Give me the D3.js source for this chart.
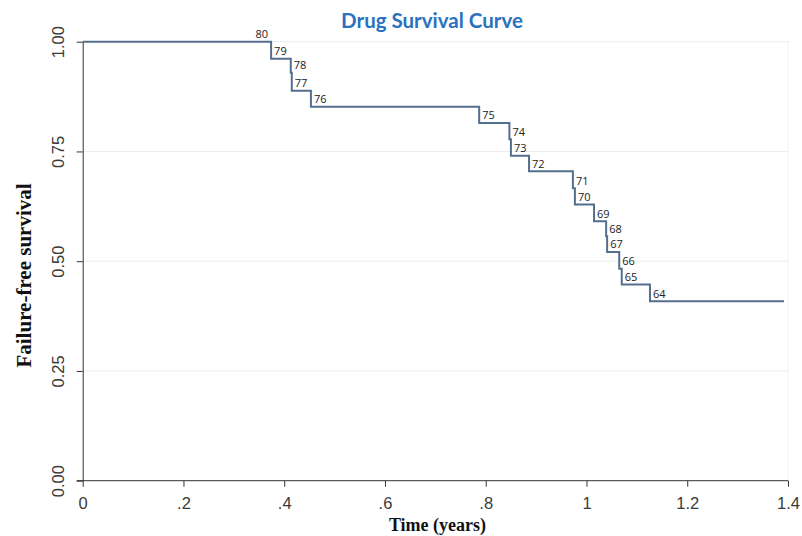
<!DOCTYPE html>
<html>
<head>
<meta charset="utf-8">
<script src="https://cdn.jsdelivr.net/npm/d3@7"></script>
<style>
  body { margin: 0; background: #fff; }
  svg { display: block; }
</style>
</head>
<body>
<svg id="chart" width="802" height="536"></svg>
<script>
// event times (years), survival after each event, number at risk labels
const times = [0, 0.374, 0.413, 0.415, 0.453, 0.787, 0.847, 0.85, 0.886, 0.973, 0.977, 1.015, 1.039, 1.041, 1.065, 1.07, 1.126];
const survival = [1.0, 0.961, 0.929, 0.888, 0.852, 0.815, 0.778, 0.74, 0.705, 0.666, 0.629, 0.591, 0.557, 0.521, 0.483, 0.447, 0.409];
const atRisk = [80, 79, 78, 77, 76, 75, 74, 73, 72, 71, 70, 69, 68, 67, 66, 65, 64];
const endTime = 1.392;

const xTicks = [0, 0.2, 0.4, 0.6, 0.8, 1, 1.2, 1.4];
const yTicks = [0, 0.25, 0.5, 0.75, 1];

const MARGINS = { top: 41.7, bottom: 55.3, left: 82.7, right: 14 };

const svg = d3.select("#chart");
const width = +svg.attr("width");
const height = +svg.attr("height");

const x = d3
  .scaleLinear()
  .domain([0, 1.4])
  .range([MARGINS.left, width - MARGINS.right]);

const y = d3
  .scaleLinear()
  .domain([0, 1])
  .range([height - MARGINS.bottom, MARGINS.top]);

// faint grid
svg
  .append("g")
  .selectAll("line")
  .data(yTicks.filter((d) => d > 0))
  .join("line")
  .attr("x1", x(0))
  .attr("x2", x(1.4))
  .attr("y1", (d) => y(d))
  .attr("y2", (d) => y(d))
  .attr("stroke", "#e9eef1")
  .attr("stroke-width", 1);

svg
  .append("line")
  .attr("x1", x(1.4))
  .attr("x2", x(1.4))
  .attr("y1", y(1))
  .attr("y2", y(0))
  .attr("stroke", "#eef2f4")
  .attr("stroke-width", 1);

// step curve
const steps = times.map((t, i) => [t, survival[i]]);
steps.push([endTime, survival[survival.length - 1]]);

const line = d3
  .line()
  .x((d) => x(d[0]))
  .y((d) => y(d[1]))
  .curve(d3.curveStepAfter);

svg
  .append("path")
  .datum(steps)
  .attr("d", line)
  .attr("fill", "none")
  .attr("stroke", "#546f8d")
  .attr("stroke-width", 2);

// number at risk labels
svg
  .append("g")
  .selectAll("text")
  .data(atRisk)
  .join("text")
  .attr("x", (d, i) => (i === 0 ? x(times[1]) - 3 : x(times[i]) + 3))
  .attr("y", (d, i) => y(survival[i]) - 3.5)
  .attr("text-anchor", (d, i) => (i === 0 ? "end" : "start"))
  .attr("font-family", "'Open Sans', sans-serif")
  .attr("font-size", 11)
  .attr("fill", "#222")
  .text((d) => d);

// axes
const xAxis = svg
  .append("g")
  .attr("transform", `translate(0, ${y(0)})`)
  .call(
    d3
      .axisBottom(x)
      .tickValues(xTicks)
      .tickSize(6)
      .tickSizeOuter(0)
      .tickFormat((d) => (d === 0 ? "0" : d3.format("~g")(d).replace(/^0\./, ".")))
  );

xAxis.select(".domain").attr("stroke", "#333").attr("d", `M${x(0) - 6},0H${x(1.4)}`);
xAxis.selectAll(".tick line").attr("stroke", "#333");
xAxis
  .selectAll(".tick text")
  .attr("y", 28)
  .attr("dy", 0)
  .attr("font-family", "'Liberation Sans', Arial, sans-serif")
  .attr("font-size", 16.5)
  .attr("fill", "#3a3a3a");

const yAxis = svg
  .append("g")
  .attr("transform", `translate(${x(0)}, 0)`)
  .call(
    d3
      .axisLeft(y)
      .tickValues(yTicks)
      .tickSize(6)
      .tickSizeOuter(0)
      .tickFormat(d3.format(".2f"))
  );

yAxis.select(".domain").attr("stroke", "#333");
yAxis.selectAll(".tick line").attr("stroke", "#333");
yAxis
  .selectAll(".tick text")
  .attr("transform", "rotate(-90)")
  .attr("x", 0)
  .attr("y", -19)
  .attr("dy", 0)
  .attr("text-anchor", "middle")
  .attr("font-family", "'Liberation Sans', Arial, sans-serif")
  .attr("font-size", 16.5)
  .attr("fill", "#3a3a3a");

// titles
svg
  .append("text")
  .attr("x", 432)
  .attr("y", 28)
  .attr("text-anchor", "middle")
  .attr("font-family", "Lato, 'Open Sans', sans-serif")
  .attr("font-weight", "bold")
  .attr("font-size", 20.5)
  .attr("fill", "#2a72bd")
  .text("Drug Survival Curve");

svg
  .append("text")
  .attr("x", 437.5)
  .attr("y", 531)
  .attr("text-anchor", "middle")
  .attr("font-family", "'Liberation Serif', 'Times New Roman', serif")
  .attr("font-weight", "bold")
  .attr("font-size", 18)
  .attr("fill", "#111")
  .text("Time (years)");

svg
  .append("text")
  .attr("transform", "translate(31, 275.5) rotate(-90)")
  .attr("text-anchor", "middle")
  .attr("font-family", "'Liberation Serif', 'Times New Roman', serif")
  .attr("font-weight", "bold")
  .attr("font-size", 21)
  .attr("fill", "#111")
  .text("Failure-free survival");
</script>
</body>
</html>
